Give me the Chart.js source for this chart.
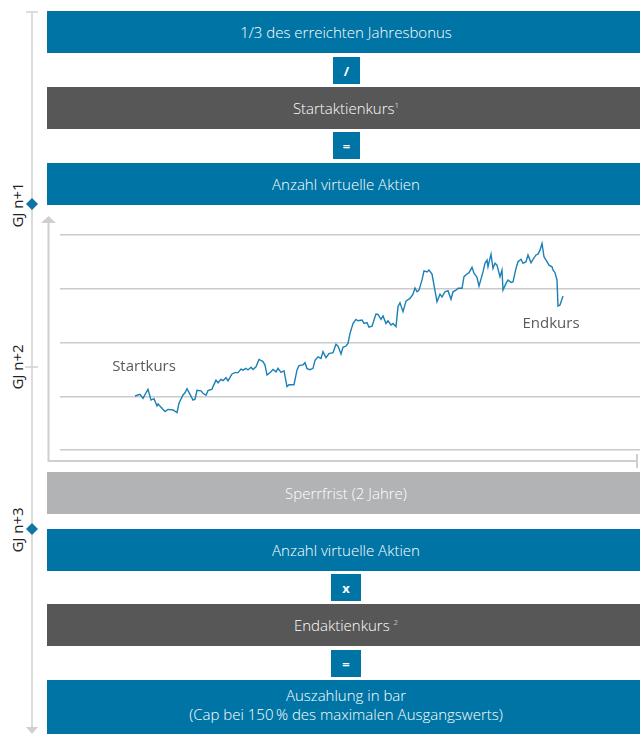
<!DOCTYPE html>
<html lang="de">
<head>
<meta charset="utf-8">
<title>Virtuelle Aktien</title>
<script src="https://cdn.jsdelivr.net/npm/chart.js@4.4.1/dist/chart.umd.min.js"></script>
<style>
  html, body { margin: 0; padding: 0; background: #fff; }
  body { width: 640px; height: 734px; position: relative; overflow: hidden; font-family: "Open Sans", "Noto Sans", sans-serif; }
  .box { position: absolute; left: 47px; width: 598px; color: #fff; font-size: 15px; font-weight: 300; line-height: 19px;
         display: flex; flex-direction: column; align-items: center; justify-content: center; text-align: center; }
  .blau { background: #0075a5; }
  .dunkel { background: #575757; }
  .hell { background: #b2b3b5; }
  .op { position: absolute; left: 333px; width: 27px; height: 27px; background: #0075a5; color: #fff;
        font-weight: bold; font-size: 13px; display: flex; align-items: center; justify-content: center; }
  sup { font-size: 8px; vertical-align: 6px; line-height: 0; }
  #zeit { position: absolute; left: 0; top: 0; }
  .gj { position: absolute; left: 17px; transform: translate(-50%, -50%) rotate(-90deg); font-size: 15px; color: #222; white-space: nowrap; }
  #chartBox { position: absolute; left: 40px; top: 210px; width: 600px; height: 262px; }
</style>
</head>
<body>

<svg id="zeit" width="44" height="734">
  <line x1="32" y1="12" x2="32" y2="728" stroke="#d0d0d0" stroke-width="1.5"/>
  <line x1="26" y1="12" x2="38" y2="12" stroke="#d0d0d0" stroke-width="1.5"/>
  <polygon points="26,727 38,727 32,734" fill="#d0d0d0"/>
  <line x1="25" y1="367" x2="38" y2="367" stroke="#d0d0d0" stroke-width="1.5"/>
  <polygon points="32,198 38,204 32,210 26,204" fill="#0f75a5"/>
  <polygon points="32,523 38,529 32,535 26,529" fill="#0f75a5"/>
</svg>
<div class="gj" style="top:205px">GJ n+1</div>
<div class="gj" style="top:367px">GJ n+2</div>
<div class="gj" style="top:530px">GJ n+3</div>

<div class="box blau" style="top:11px;height:42px">1/3 des erreichten Jahresbonus</div>
<div class="op" style="top:57px">/</div>
<div class="box dunkel" style="top:87px;height:42px"><span>Startaktienkurs<sup>1</sup></span></div>
<div class="op" style="top:132px">=</div>
<div class="box blau" style="top:163px;height:42px">Anzahl virtuelle Aktien</div>

<div id="chartBox"><canvas id="kursChart"></canvas></div>

<div class="box hell" style="top:472px;height:42px">Sperrfrist (2 Jahre)</div>
<div class="box blau" style="top:529px;height:42px">Anzahl virtuelle Aktien</div>
<div class="op" style="top:574px;left:331px;width:30px">x</div>
<div class="box dunkel" style="top:604px;height:42px"><span>Endaktienkurs <sup>2</sup></span></div>
<div class="op" style="top:650px;left:331px;width:30px">=</div>
<div class="box blau" style="top:680px;height:54px;padding-bottom:4px;box-sizing:border-box">
  <span>Auszahlung in bar</span>
  <span>(Cap bei 150&#8201;% des maximalen Ausgangswerts)</span>
</div>

<script>
// Handelstage (relativ) und Kursverlauf
const tage = [0, 5, 8, 11, 13, 16, 19, 22, 23, 27, 30, 33, 38, 42, 44, 48, 50, 52, 55, 58,
  60, 62, 66, 68, 71, 73, 77, 78, 81, 83, 86, 88, 91, 93, 97, 100, 103, 106, 108, 111,
  113, 116, 118, 121, 124, 128, 130, 132, 136, 138, 141, 143, 146, 149, 152, 154, 159, 162, 164, 168,
  170, 172, 175, 178, 180, 183, 186, 188, 191, 194, 198, 201, 203, 206, 208, 211, 213, 215, 218, 221,
  223, 227, 229, 232, 234, 237, 239, 241, 243, 246, 248, 251, 253, 256, 258, 261, 263, 265, 268, 271,
  274, 275, 278, 280, 282, 284, 287, 289, 292, 294, 297, 299, 302, 305, 307, 310, 313, 316, 318, 321,
  323, 327, 329, 332, 334, 337, 339, 342, 344, 348, 350, 352, 353, 356, 358, 360, 362, 365, 367, 368,
  371, 373, 376, 378, 381, 383, 386, 388, 391, 393, 396, 398, 401, 403, 405, 407, 409, 412, 414, 417,
  418, 420, 422, 423, 425, 428];
const kurse = [40.1, 40.7, 39.2, 41.3, 42.6, 38.6, 39.1, 36.4, 37.1, 35.5, 34.3, 35.1, 34.9, 33.9, 37.4, 40.5, 41.3, 42.8, 40.7, 38.6,
  38.9, 42.2, 42.0, 41.1, 40.4, 42.1, 42.6, 43.6, 46.0, 45.0, 46.3, 45.8, 46.9, 45.7, 48.3, 48.8, 48.8, 50.1, 49.7, 50.4,
  49.8, 50.8, 50.0, 51.0, 53.7, 52.9, 51.6, 47.9, 49.1, 50.0, 49.1, 50.4, 48.9, 49.5, 43.6, 44.3, 44.3, 49.8, 51.4, 51.7,
  52.5, 50.3, 49.9, 50.4, 53.4, 54.7, 54.1, 56.6, 54.4, 55.9, 56.2, 59.4, 58.7, 55.7, 58.2, 58.7, 59.7, 63.4, 67.1, 68.6,
  68.1, 68.4, 67.1, 67.4, 65.7, 66.1, 68.4, 70.6, 70.5, 68.6, 69.9, 67.1, 68.1, 66.5, 67.1, 65.9, 73.3, 74.8, 71.5, 75.4,
  76.2, 76.4, 78.0, 80.3, 78.9, 79.5, 83.3, 86.7, 86.3, 87.0, 85.5, 81.4, 75.2, 78.0, 77.0, 78.9, 79.3, 76.1, 78.9, 79.5,
  80.2, 80.2, 84.5, 85.5, 86.0, 88.0, 85.8, 84.3, 81.0, 86.3, 89.5, 90.7, 88.2, 92.9, 87.6, 89.5, 88.8, 84.5, 87.0, 79.5,
  82.0, 83.3, 82.4, 82.6, 87.6, 90.1, 91.0, 89.5, 90.1, 92.6, 89.7, 91.0, 92.6, 92.9, 94.4, 96.9, 91.9, 90.1, 88.8, 88.2,
  87.0, 86.0, 83.3, 73.6, 74.0, 77.3];
const gitterWerte = [20, 40, 60, 80, 100];
const beschriftungStart = 'Startkurs';
const beschriftungEnde = 'Endkurs';

const punkte = tage.map((t, i) => ({ x: t, y: kurse[i] }));

const achsenPlugin = {
  id: 'achsen',
  beforeDraw(chart) {
    const { ctx, chartArea: a } = chart;
    const x0 = a.left - 11.5;
    ctx.save();
    ctx.strokeStyle = '#cfcfcf';
    ctx.fillStyle = '#cfcfcf';
    ctx.lineWidth = 2;
    ctx.beginPath();
    ctx.moveTo(x0, a.top);
    ctx.lineTo(x0, a.bottom);
    ctx.lineTo(a.right - 3, a.bottom);
    ctx.stroke();
    ctx.beginPath();
    ctx.moveTo(a.right - 3, a.bottom - 7);
    ctx.lineTo(a.right - 3, a.bottom + 7);
    ctx.stroke();
    // Pfeilspitze oben
    ctx.beginPath();
    ctx.moveTo(x0 - 7.5, a.top);
    ctx.lineTo(x0 + 7.5, a.top);
    ctx.lineTo(x0, a.top - 7);
    ctx.closePath();
    ctx.fill();
    ctx.restore();
  },
  afterDatasetsDraw(chart) {
    const { ctx } = chart;
    const pts = chart.getDatasetMeta(0).data;
    const first = pts[0];
    const last = pts[pts.length - 1];
    ctx.save();
    ctx.font = '15px "Open Sans", "Noto Sans", sans-serif';
    ctx.fillStyle = '#5a5a5a';
    ctx.textAlign = 'center';
    ctx.textBaseline = 'alphabetic';
    ctx.fillText(beschriftungStart, first.x + 9, first.y - 25);
    ctx.fillText(beschriftungEnde, last.x - 12, last.y + 32);
    ctx.restore();
  }
};

new Chart(document.getElementById('kursChart'), {
  type: 'line',
  data: {
    datasets: [{
      data: punkte,
      borderColor: '#1a80b6',
      borderWidth: 1.4,
      pointRadius: 0,
      tension: 0,
      fill: false
    }]
  },
  options: {
    responsive: true,
    maintainAspectRatio: false,
    animation: false,
    layout: { padding: { left: 20, top: 13, bottom: 11, right: 0 } },
    plugins: { legend: { display: false }, tooltip: { enabled: false } },
    scales: {
      x: { type: 'linear', display: false, min: -75, max: 505 },
      y: {
        min: 15.9,
        max: 104.5,
        afterBuildTicks(scale) {
          scale.ticks = gitterWerte.map((v) => ({ value: v }));
        },
        ticks: { display: false },
        border: { display: false },
        grid: { color: '#cbcbcb', lineWidth: 1.5, drawTicks: false }
      }
    }
  },
  plugins: [achsenPlugin]
});
</script>
</body>
</html>
